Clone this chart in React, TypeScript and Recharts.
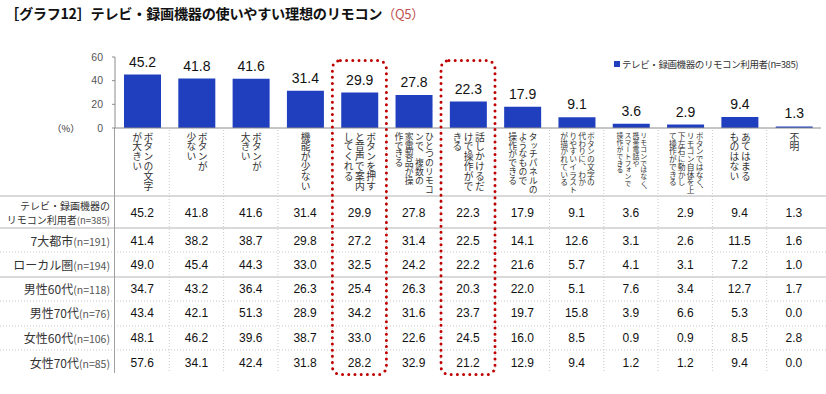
import React from 'react';
import { BarChart, Bar, XAxis, YAxis, LabelList } from 'recharts';

const categories = [
  'ボタンの文字\nが大きい',
  'ボタンが\n少ない',
  'ボタンが\n大きい',
  '機能が少ない',
  'ボタンを押す\nと音声で案内\nしてくれる',
  'ひとつのリモコ\nンで、複数の\n家電製品が操\n作できる',
  '話しかけるだ\nけで操作がで\nきる',
  'タッチパネルの\nようなもので\n操作ができる',
  'ボタンの文字の\n代わりに、わか\nりやすいイラスト\nが描かれている',
  'リモコンではなく、\n携帯電話や\nスマートフォンで\n操作ができる',
  'ボタンではなく、\nリモコン自体を上\n下左右に動かし\nて操作ができる',
  'あてはまる\nものはない',
  '不明',
];

const total = [45.2, 41.8, 41.6, 31.4, 29.9, 27.8, 22.3, 17.9, 9.1, 3.6, 2.9, 9.4, 1.3];
const bigCities = [41.4, 38.2, 38.7, 29.8, 27.2, 31.4, 22.5, 14.1, 12.6, 3.1, 2.6, 11.5, 1.6];
const localArea = [49.0, 45.4, 44.3, 33.0, 32.5, 24.2, 22.2, 21.6, 5.7, 4.1, 3.1, 7.2, 1.0];
const male60s = [34.7, 43.2, 36.4, 26.3, 25.4, 26.3, 20.3, 22.0, 5.1, 7.6, 3.4, 12.7, 1.7];
const male70s = [43.4, 42.1, 51.3, 28.9, 34.2, 31.6, 23.7, 19.7, 15.8, 3.9, 6.6, 5.3, 0.0];
const female60s = [48.1, 46.2, 39.6, 38.7, 33.0, 22.6, 24.5, 16.0, 8.5, 0.9, 0.9, 8.5, 2.8];
const female70s = [57.6, 34.1, 42.4, 31.8, 28.2, 32.9, 21.2, 12.9, 9.4, 1.2, 1.2, 9.4, 0.0];

const rowLabels = ['リモコン利用者', '7大都市', 'ローカル圏', '男性60代', '男性70代', '女性60代', '女性70代'];
const rowN = ['(n=385)', '(n=191)', '(n=194)', '(n=118)', '(n=76)', '(n=106)', '(n=85)'];
const firstRowTop = 'テレビ・録画機器の';
const tableRows = [total, bigCities, localArea, male60s, male70s, female60s, female70s];
const highlighted = [4, 6];

const yTicks = [0, 20, 40, 60];

const data = categories.map((name, i) => ({ name, value: total[i] }));

const W = 826;
const H = 394;
const PLOT_L = 115;
const PLOT_R = 821;
const PLOT_T = 57;
const PLOT_B = 128;
const BAND = (PLOT_R - PLOT_L) / categories.length;
const rowY = [213, 241, 265, 289, 313, 338, 363];
const solidLines = [196, 228, 277];
const dottedLines = [252, 301, 326, 350];
const TABLE_B = 373;

const CJK = "'Noto Sans CJK JP', sans-serif";
const NUM = "'Liberation Sans', Arial, 'Noto Sans CJK JP', sans-serif";

const ColumnTick = (props: any) => {
  const { x, index } = props;
  const label = categories[index];
  const lines = label.split('\n');
  const maxLen = Math.max(...lines.map((l: string) => l.length));
  const fs = Math.min(9.8, 62 / maxLen);
  const half = BAND / 2;
  return (
    <g>
      <foreignObject x={x - half} y={132} width={BAND} height={66}>
        <div style={{ display: 'flex', justifyContent: 'center', height: '100%' }}>
          <div
            style={{
              writingMode: 'vertical-rl',
              whiteSpace: 'pre',
              fontSize: fs,
              lineHeight: 1.15,
              color: '#333',
              fontFamily: CJK,
            }}
          >
            {label}
          </div>
        </div>
      </foreignObject>
      {index < categories.length - 1 && (
        <line x1={x + half} x2={x + half} y1={130} y2={TABLE_B} stroke="#c8c8c8" strokeDasharray="1 2" />
      )}
      {tableRows.map((row, r) => (
        <text
          key={r}
          x={x}
          y={rowY[r]}
          textAnchor="middle"
          dominantBaseline="central"
          fontSize={12}
          fontFamily={NUM}
          fill="#111"
        >
          {row[index].toFixed(1)}
        </text>
      ))}
      {highlighted.includes(index) && (
        <rect
          x={x - 27}
          y={60.5}
          width={54}
          height={314}
          rx={8}
          fill="none"
          stroke="#c00000"
          strokeWidth={3}
          strokeDasharray="0 6.2"
          strokeLinecap="round"
        />
      )}
    </g>
  );
};

export default function App() {
  return (
    <div style={{ position: 'absolute', left: 0, top: 0, width: W, height: H, background: '#fff', fontFamily: CJK }}>
      <svg width={W} height={H} style={{ position: 'absolute', left: 0, top: 0 }}>
        {solidLines.map((y) => (
          <line key={y} x1={0} x2={W} y1={y} y2={y} stroke="#b4b4b4" />
        ))}
        {dottedLines.map((y) => (
          <line key={y} x1={0} x2={W} y1={y} y2={y} stroke="#c8c8c8" strokeDasharray="1 2" />
        ))}
        <line x1={114.5} x2={114.5} y1={PLOT_B} y2={TABLE_B} stroke="#a0a0a0" />
      </svg>

      <div style={{ position: 'absolute', left: 5, top: 3, fontSize: 14.2, fontWeight: 700, color: '#111', whiteSpace: 'nowrap', letterSpacing: -0.3 }}>
        ［グラフ12］テレビ・録画機器の使いやすい理想のリモコン
        <span style={{ fontWeight: 400, color: '#c0504d', fontSize: 13 }}>（Q5）</span>
      </div>

      <div style={{ position: 'absolute', left: 52, top: 121, fontSize: 9.5, color: '#333' }}>（%）</div>

      <div style={{ position: 'absolute', left: 614, top: 57, fontSize: 9.5, letterSpacing: -0.4, color: '#333', whiteSpace: 'nowrap', display: 'flex', alignItems: 'center' }}>
        <span style={{ display: 'inline-block', width: 6, height: 6, background: '#1f3fbf', marginRight: 2 }} />
        テレビ・録画機器のリモコン利用者(n=385)
      </div>

      <div
        style={{
          position: 'absolute', left: 0, width: 110, top: 199, textAlign: 'right',
          fontSize: 10, lineHeight: '13px', color: '#333', whiteSpace: 'nowrap',
        }}
      >
        {firstRowTop}
      </div>

      {rowLabels.map((lab, r) => (
        <div
          key={r}
          style={{
            position: 'absolute',
            left: 0,
            width: 110,
            top: r === 0 ? 213 : rowY[r] - 8,
            textAlign: 'right',
            fontSize: r === 0 ? 10 : 12,
            lineHeight: r === 0 ? '13px' : '16px',
            color: '#333',
            whiteSpace: 'nowrap',
          }}
        >
          {lab}
          <span style={{ fontSize: r === 0 ? 9.5 : 10.5, color: '#555' }}>{rowN[r]}</span>
        </div>
      ))}

      <div style={{ position: 'absolute', left: 0, top: 0 }}>
        <BarChart
          width={W}
          height={H}
          data={data}
          margin={{ top: PLOT_T, right: W - PLOT_R, bottom: 0, left: 0 }}
        >
          <YAxis
            type="number"
            domain={[0, 60]}
            ticks={yTicks}
            width={PLOT_L}
            axisLine={{ stroke: '#8c8c8c' }}
            tickLine={{ stroke: '#8c8c8c' }}
            tickSize={3}
            tickMargin={9}
            tick={{ fontSize: 10.5, fill: '#555', fontFamily: NUM }}
          />
          <XAxis
            dataKey="name"
            type="category"
            interval={0}
            height={H - PLOT_B}
            axisLine={{ stroke: '#8c8c8c' }}
            tickLine={false}
            tick={(p: any) => <ColumnTick {...p} />}
          />
          <Bar dataKey="value" fill="#1f3fbf" barSize={37} isAnimationActive={false}>
            <LabelList
              dataKey="value"
              position="top"
              offset={8}
              formatter={(v: any) => Number(v).toFixed(1)}
              style={{ fontSize: 14, fill: '#111', fontFamily: NUM }}
            />
          </Bar>
        </BarChart>
      </div>
    </div>
  );
}
